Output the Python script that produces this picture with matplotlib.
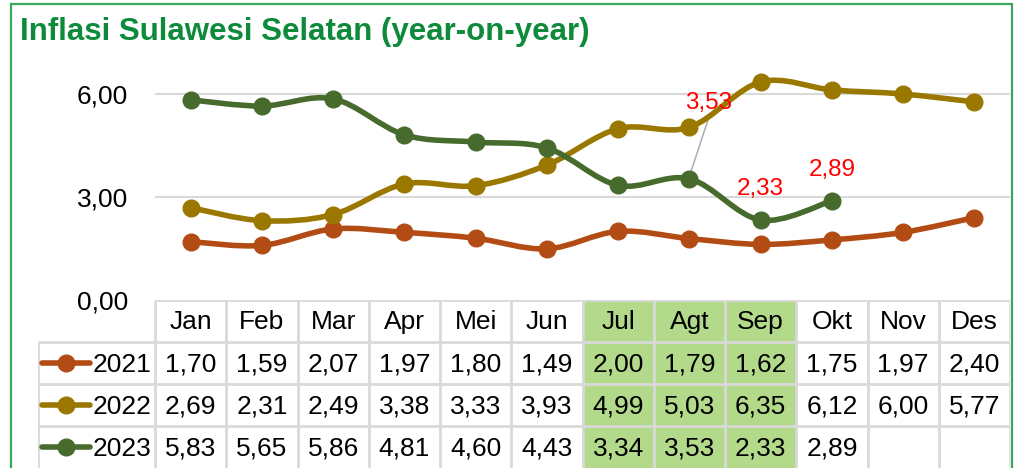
import numpy as np
import matplotlib
matplotlib.use("Agg")
import matplotlib.pyplot as plt
from matplotlib.path import Path
from matplotlib.patches import PathPatch, Rectangle

months = ["Jan", "Feb", "Mar", "Apr", "Mei", "Jun", "Jul", "Agt", "Sep", "Okt", "Nov", "Des"]
years = ["2021", "2022", "2023"]
inf_2021 = [1.70, 1.59, 2.07, 1.97, 1.80, 1.49, 2.00, 1.79, 1.62, 1.75, 1.97, 2.40]
inf_2022 = [2.69, 2.31, 2.49, 3.38, 3.33, 3.93, 4.99, 5.03, 6.35, 6.12, 6.00, 5.77]
inf_2023 = [5.83, 5.65, 5.86, 4.81, 4.60, 4.43, 3.34, 3.53, 2.33, 2.89]
colors = ["#b24c14", "#9a7800", "#476b2c"]
highlight = ["Jul", "Agt", "Sep"]
labelled = {"Agt": 3.53, "Sep": 2.33, "Okt": 2.89}   # red data labels on 2023

NARROW = ["Liberation Sans Narrow", "Liberation Sans", "DejaVu Sans"]
FS = 19
GRID = "#d9d9d9"


def fmt(v):
    return ("%.2f" % v).replace(".", ",")


def smooth_path(xs, ys):
    # excel-like smoothed line: catmull-rom -> cubic bezier
    p = np.column_stack([xs, ys])
    verts = [p[0]]
    codes = [Path.MOVETO]
    n = len(p)
    for i in range(n - 1):
        p0 = p[i - 1] if i > 0 else p[i]
        p3 = p[i + 2] if i + 2 < n else p[i + 1]
        c1 = p[i] + (p[i + 1] - p0) / 6.0
        c2 = p[i + 1] - (p3 - p[i]) / 6.0
        verts += [c1, c2, p[i + 1]]
        codes += [Path.CURVE4] * 3
    return Path(verts, codes)


W, H = 1015, 468
fig = plt.figure(figsize=(W / 100, H / 100), dpi=100)
fig.patch.set_facecolor("white")

# plot area
col_w = (1010 - 155) / 12.0
ax = fig.add_axes([155 / W, (H - 300) / H, 855 / W, 240 / H])
ax.set_xlim(-0.5, 11.5)
ax.set_ylim(0, 240 / 34.33)
for s in ax.spines.values():
    s.set_visible(False)
ax.set_xticks([])
ax.set_yticks([0, 3, 6])
ax.set_yticklabels([fmt(v) for v in [0, 3, 6]], family=NARROW, fontsize=FS)
ax.tick_params(axis="y", length=0, pad=19.5)
for g in [3, 6]:
    ax.axhline(g, color=GRID, lw=1.5, zorder=0)

series = [inf_2021, inf_2022, inf_2023]
for vals, c in zip(series, colors):
    x = np.arange(len(vals))
    ax.add_patch(PathPatch(smooth_path(x, vals), fill=False, ec=c, lw=4,
                           capstyle="round", joinstyle="round", zorder=3))
    ax.plot(x, vals, "o", color=c, ms=12, zorder=4, clip_on=False)

# red labels on 2023
lab_kw = dict(color="red", fontsize=17.5, family="Liberation Sans",
              ha="center", va="baseline", zorder=5)
ax.text(7.27, 5.55, fmt(labelled["Agt"]), **lab_kw)
ax.plot([7.27, 7.0], [5.30, 3.6], color="#a6a6a6", lw=1, zorder=2)
ax.text(8.0, 3.05, fmt(labelled["Sep"]), **lab_kw)
ax.text(9.0, 3.6, fmt(labelled["Okt"]), **lab_kw)

# data table
leg_x0 = -0.5 - (155 - 38) / col_w
tx = fig.add_axes([38 / W, 0, (1010 - 38) / W, 168 / H])
tx.set_xlim(leg_x0, 11.5)
tx.set_ylim(4, 0)
tx.axis("off")

for m in highlight:
    i = months.index(m)
    tx.add_patch(Rectangle((i - 0.5, 0), 1, 4, color="#b3da8b", zorder=0))

tx.hlines(0, -0.5, 11.5, color=GRID, lw=2, zorder=1)
tx.hlines([1, 2, 3], leg_x0, 11.5, color=GRID, lw=2, zorder=1)
tx.vlines(np.arange(-0.5, 12, 1), 0, 4, color=GRID, lw=2, zorder=1)
tx.vlines(leg_x0, 1, 4, color=GRID, lw=2, zorder=1)

for i, m in enumerate(months):
    tx.text(i, 0.52, m, ha="center", va="center", family=NARROW, fontsize=FS)

for r, (yr, vals, c) in enumerate(zip(years, series, colors)):
    yy = r + 1.5
    tx.plot([leg_x0 + 0.06, leg_x0 + 0.73], [yy, yy], color=c, lw=4,
            solid_capstyle="round", zorder=2)
    tx.plot([leg_x0 + 0.395], [yy], "o", color=c, ms=12, zorder=3)
    tx.text(leg_x0 + 0.76, yy + 0.04, yr, ha="left", va="center",
            family=NARROW, fontsize=FS)
    for i, v in enumerate(vals):
        tx.text(i, yy + 0.04, fmt(v), ha="center", va="center",
                family=NARROW, fontsize=FS)

# title and green frame
fig.text(20 / W, 1 - 32 / H, "Inflasi Sulawesi Selatan (year-on-year)",
         color="#0d8a3a", fontsize=22.5, fontweight="bold", family=NARROW,
         ha="left", va="center")
fig.patches.append(Rectangle((11 / W, -0.05), (1012 - 11) / W, 1 - 4 / H + 0.05,
                             transform=fig.transFigure, fill=False,
                             ec="#3aa75a", lw=1.6, zorder=10))

fig.savefig("out.png", dpi=100)
